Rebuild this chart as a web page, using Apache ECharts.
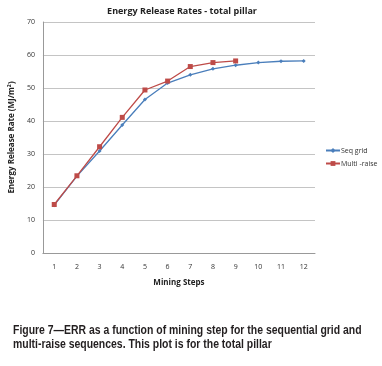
<!DOCTYPE html>
<html><head><meta charset="utf-8">
<script src="https://cdn.jsdelivr.net/npm/echarts@6/dist/echarts.min.js"></script>
<style>html,body{margin:0;padding:0;background:#fff}#c{width:382px;height:366px}</style>
</head><body><div id="c"></div>
<script>
const categories = ['1','2','3','4','5','6','7','8','9','10','11','12'];
const seqGrid = [14.5, 23.3, 30.9, 38.8, 46.5, 51.5, 54.0, 55.8, 56.9, 57.7, 58.1, 58.2];
const multiRaise = [14.7, 23.4, 32.2, 41.1, 49.4, 52.1, 56.5, 57.7, 58.2];
const yTicks = [0, 10, 20, 30, 40, 50, 60, 70];
const captionLines = [
  'Figure 7\u2014ERR as a function of mining step for the sequential grid and',
  'multi-raise sequences. This plot is for the total pillar'
];

const chart = echarts.init(document.getElementById('c'));
const ff = 'Open Sans, Liberation Sans, Arial, sans-serif';
const capFont = 'bold 12px Liberation Sans, Arial, sans-serif';
chart.setOption({
  animation: false,
  title: [{
    text: 'Energy Release Rates - total pillar',
    left: 177, top: 2, textAlign: 'center',
    textStyle: {fontSize: 9, fontWeight: 'bold', color: '#222', fontFamily: ff}
  }],
  graphic: captionLines.map((t, i) => ({
    type: 'text', x: 13, y: 325 + i * 13.5, scaleX: 0.87,
    style: {text: t, font: capFont, fill: '#231f20', textVerticalAlign: 'top'}
  })),
  legend: {
    orient: 'vertical', left: 320, top: 142, itemGap: 6,
    itemWidth: 14, itemHeight: 6,
    textStyle: {fontSize: 7, color: '#333', fontFamily: ff, padding: [0,0,0,-4]},
    data: ['Seq grid', 'Multi -raise']
  },
  grid: {left: 39, right: 67, top: 22, bottom: 113, containLabel: false},
  xAxis: {
    type: 'category', data: categories, boundaryGap: true,
    name: 'Mining Steps', nameLocation: 'middle', nameGap: 26,
    nameTextStyle: {fontSize: 8, fontWeight: 'bold', color: '#222', fontFamily: ff},
    axisLine: {lineStyle: {color: '#999'}},
    axisTick: {show: false},
    axisLabel: {fontSize: 7, color: '#333', margin: 10, fontFamily: ff}
  },
  yAxis: {
    type: 'value', min: yTicks[0], max: yTicks[yTicks.length-1], interval: 10,
    name: 'Energy Release Rate (MJ/m\u00B2)', nameLocation: 'middle', nameGap: 24,
    nameTextStyle: {fontSize: 8, fontWeight: 'bold', color: '#222', fontFamily: ff},
    axisLine: {show: true, lineStyle: {color: '#999'}},
    axisTick: {show: false},
    axisLabel: {fontSize: 7, color: '#333', margin: 8, fontFamily: ff},
    splitLine: {lineStyle: {color: '#c4c4c4', width: 1}}
  },
  series: [{
    name: 'Seq grid', type: 'line', data: seqGrid,
    symbol: 'diamond', symbolSize: 4,
    lineStyle: {color: '#4A7EBB', width: 1.3},
    itemStyle: {color: '#4A7EBB'}
  }, {
    name: 'Multi -raise', type: 'line', data: multiRaise,
    symbol: 'rect', symbolSize: 5,
    lineStyle: {color: '#BE4B48', width: 1.3},
    itemStyle: {color: '#BE4B48'}
  }]
});
</script></body></html>
